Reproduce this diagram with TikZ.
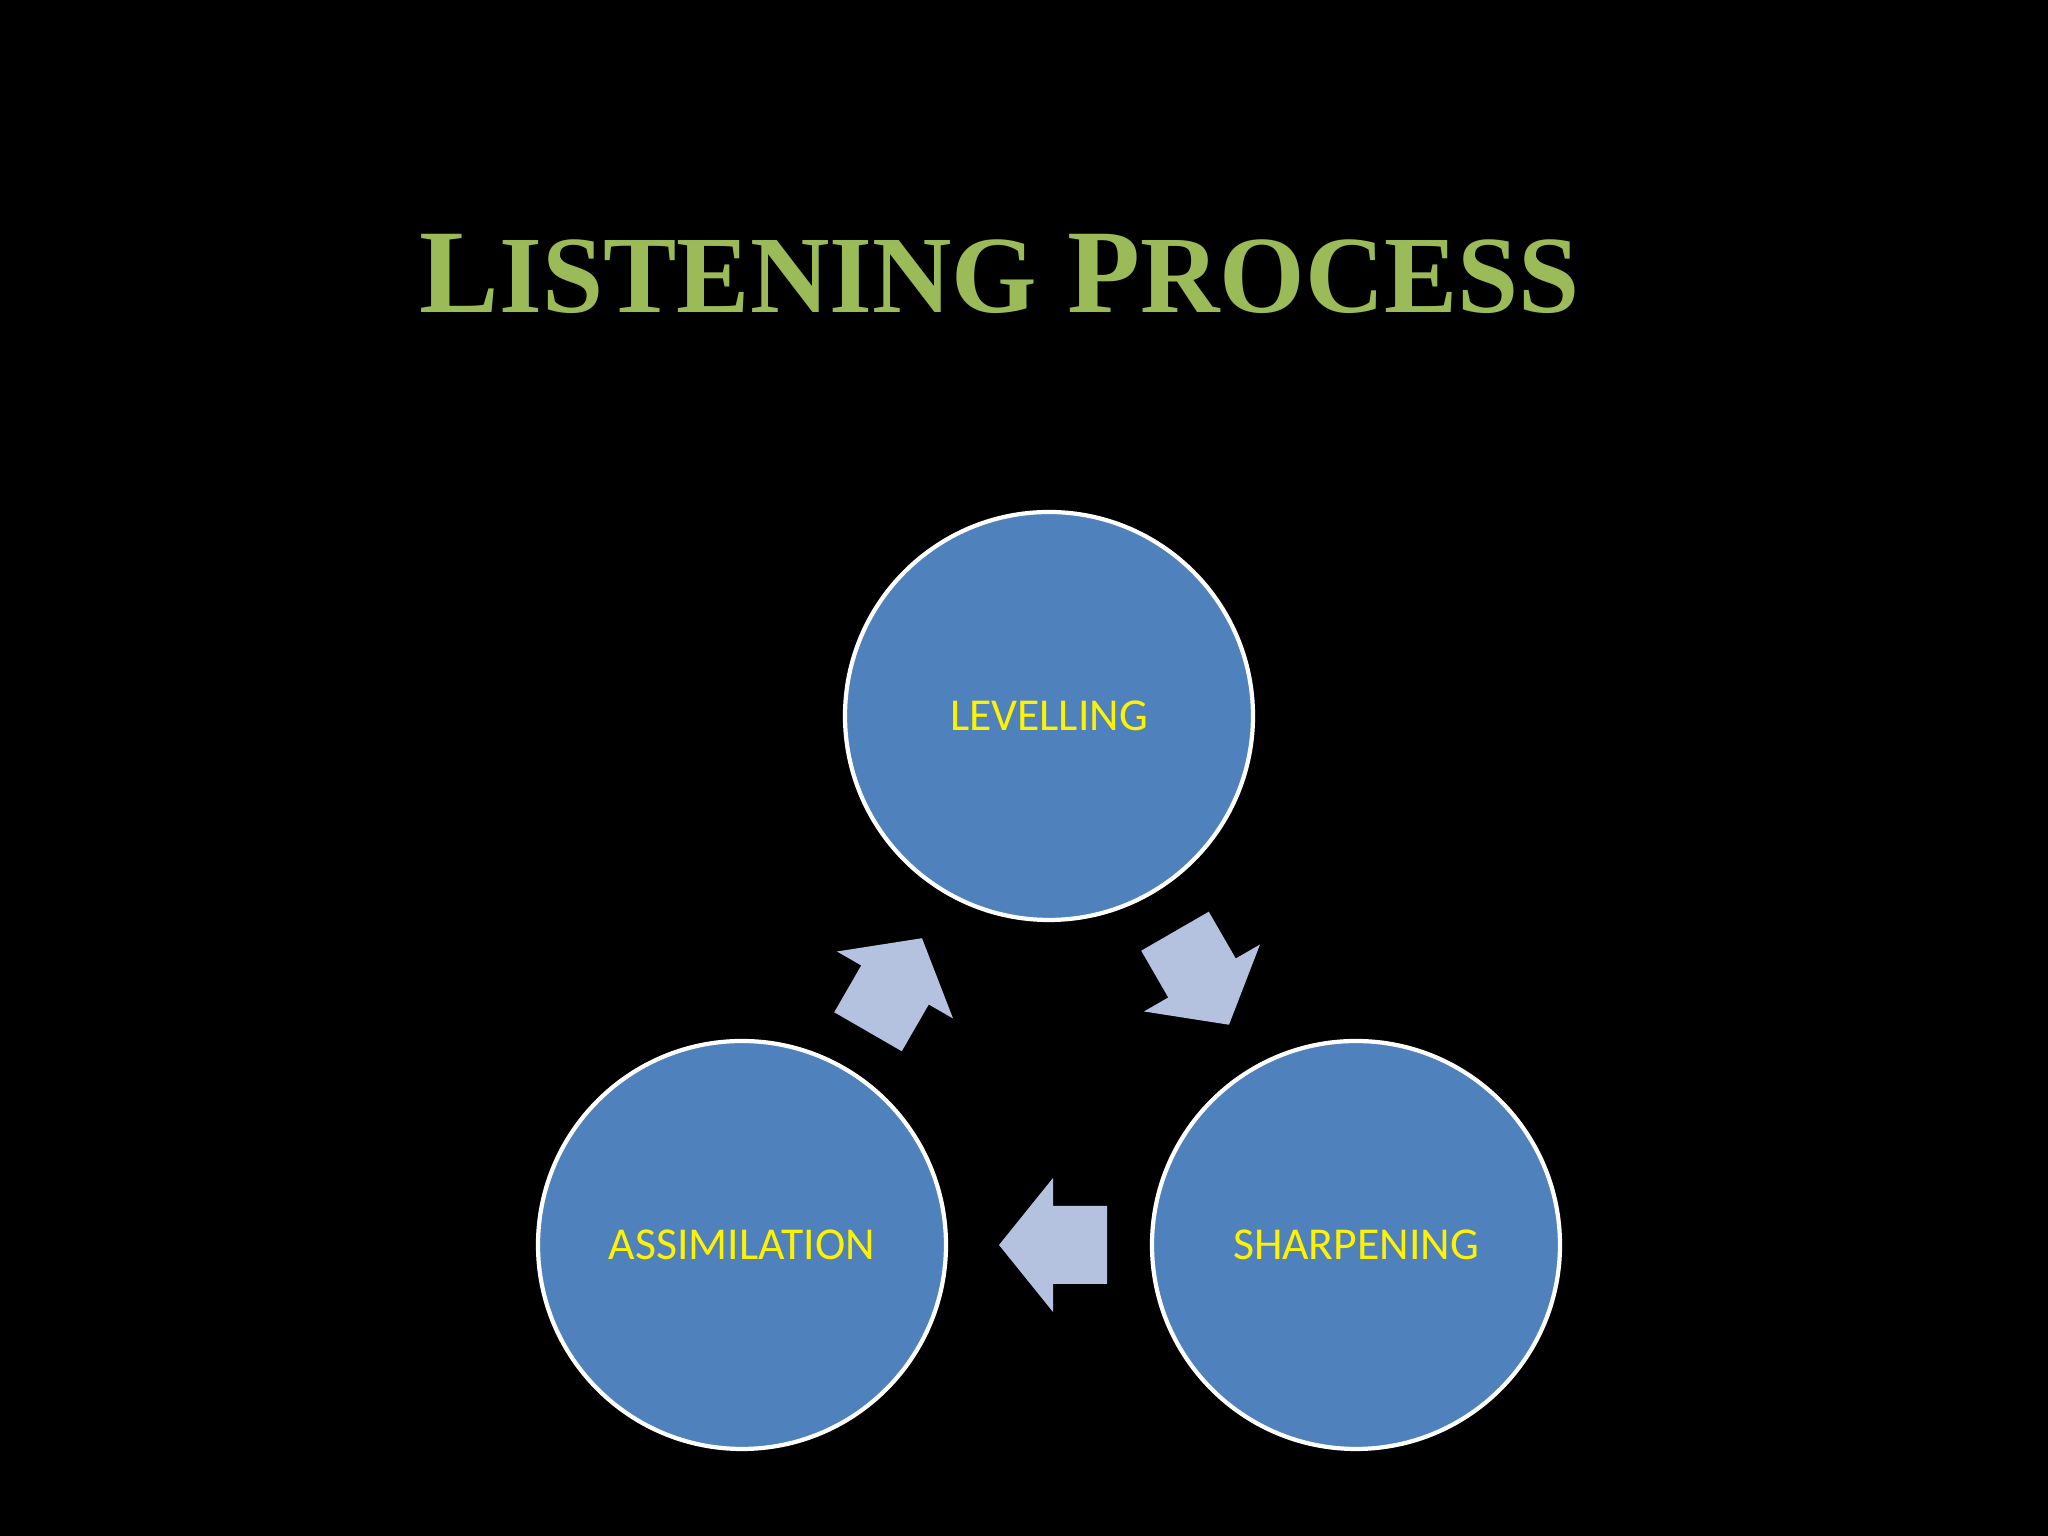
\documentclass[tikz,border=0pt]{standalone}
\usepackage{fontspec}
\setmainfont{Carlito}
\newfontfamily\titlefont{Liberation Serif}
\definecolor{cfill}{HTML}{4F81BD}
\definecolor{arr}{HTML}{B4C2DF}
\definecolor{ttl}{HTML}{9BBB59}
\begin{document}
\begin{tikzpicture}
\fill[black] (0,0) rectangle (20.48,15.36);
\useasboundingbox (0,0) rectangle (20.48,15.36);
\tikzset{
  circ/.style={circle,draw=white,line width=1.2pt,fill=cfill,minimum size=4.08cm,text=yellow,font=\fontsize{13}{15}\selectfont},
  blockarrow/.pic={\fill[arr] (-0.54,0) -- (0,0.67) -- (0,0.39) -- (0.54,0.39) -- (0.54,-0.39) -- (0,-0.39) -- (0,-0.67) -- cycle;}
}
\node[text=ttl,font=\titlefont\bfseries\fontsize{34}{40}\selectfont] (title) at (10.0,12.62) {L\scalebox{0.92}{ISTENING} P\scalebox{0.92}{ROCESS}};
\node[circ] (lev) at (10.49,8.20) {LEVELLING};
\node[circ] (asm) at (7.42,2.91) {ASSIMILATION};
\node[circ] (shp) at (13.56,2.91) {SHARPENING};
\pic[rotate=0] (a1) at (10.53,2.91) {blockarrow};
\pic[rotate=120] (a2) at (12.02,5.58) {blockarrow};
\pic[rotate=-120] (a3) at (8.95,5.51) {blockarrow};
\end{tikzpicture}
\end{document}
